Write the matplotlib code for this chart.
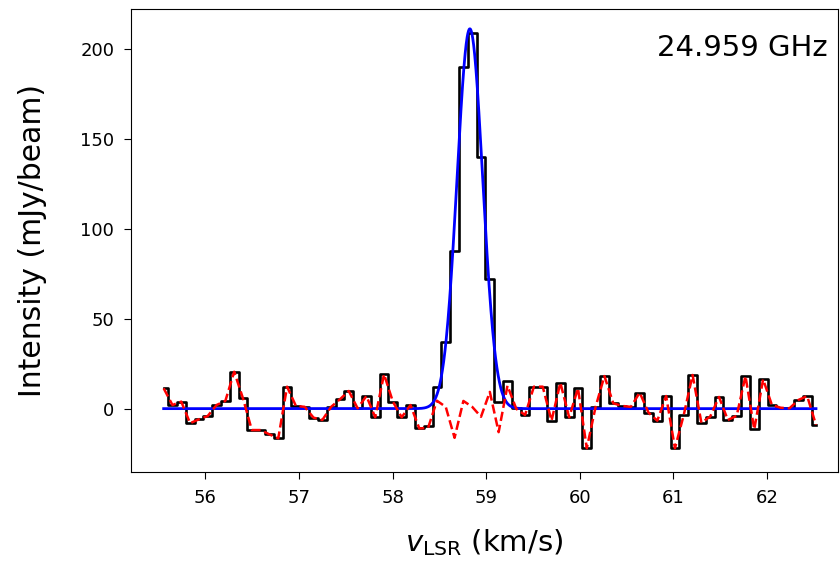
import numpy as np
import matplotlib
matplotlib.use('Agg')
import matplotlib.pyplot as plt

# spectrum channels (km/s)
v_start = 55.554
v_width = 0.0942
# intensity per channel (mJy/beam)
intensity = [11.3, 2.0, 3.9, -8.1, -5.9, -4.1, 2.0, 4.3, 20.5, 5.7,
             -11.9, -11.9, -14.3, -16.5, 12.2, 1.5, 1.0, -5.0, -6.3, 1.0,
             5.2, 9.8, 0.2, 7.0, -4.8, 19.1, 3.9, -4.8, 2.0, -10.9,
             -9.6, 12.2, 37.0, 87.4, 190.0, 208.5, 140.0, 72.0, 3.9, 15.6,
             0.2, -3.5, 12.2, 12.2, -6.7, 14.4, -4.8, 11.3, -22.0, 1.0,
             18.1, 3.0, 1.5, 1.0, 8.9, -2.2, -6.7, 7.0, -22.0, -3.5,
             18.7, -7.8, -4.4, 6.5, -6.3, -4.0, 18.1, -11.5, 16.3, 2.0,
             0.5, 0.2, 4.8, 7.0, -9.0]

# gaussian fit
fit_amp = 211.0
fit_cen = 58.826
fit_sig = 0.137

freq_label = '24.959 GHz'

intensity = np.array(intensity)
vel = v_start + v_width*np.arange(len(intensity))

def gauss(v):
    return fit_amp*np.exp(-(v - fit_cen)**2/(2.*fit_sig**2))

v_fine = np.linspace(vel[0], vel[-1], 2000)
resid = intensity - gauss(vel)

fig = plt.figure(figsize=(8.4, 5.63), dpi=100)
ax = fig.add_axes([131/840., 1-472/563., (838-131)/840., (472-9)/563.])

ax.plot(vel, intensity, color='k', lw=1.9, drawstyle='steps-mid')
ax.plot(v_fine, gauss(v_fine), color='b', lw=2.0)
ax.plot(vel, resid, color='r', lw=1.8, ls='--')

ax.set_xlim(55.205, 62.76)
ax.set_ylim(-35.2, 222)
ax.tick_params(labelsize=13, length=5, pad=7)
ax.set_xlabel(r'$v_{\rm LSR}$ (km/s)', fontsize=21, labelpad=15)
ax.set_ylabel('Intensity (mJy/beam)', fontsize=21.5, labelpad=24)
ax.text(0.986, 0.916, freq_label, transform=ax.transAxes, ha='right', va='center', fontsize=21)

plt.savefig('out.png', dpi=100)
